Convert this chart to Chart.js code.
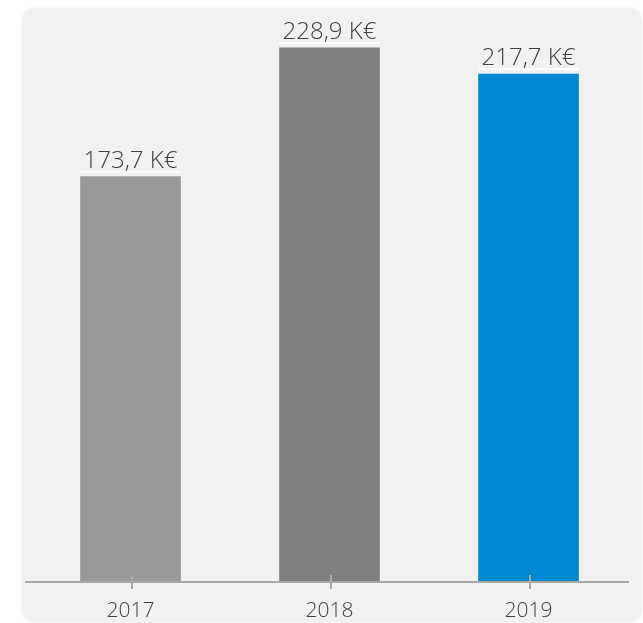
<!DOCTYPE html>
<html>
<head>
<meta charset="utf-8">
<script src="https://cdn.jsdelivr.net/npm/chart.js@4/dist/chart.umd.min.js"></script>
<style>
  html, body { margin: 0; padding: 0; background: #ffffff; }
  #c { display: block; }
</style>
</head>
<body>
<canvas id="c" width="643" height="623"></canvas>
<script>
const categories = ['2017', '2018', '2019'];
const values = [173.7, 228.9, 217.7];
const valueLabels = ['173,7 K€', '228,9 K€', '217,7 K€'];
const barColors = ['#999999', '#808080', '#0088d1'];

const panelPlugin = {
  id: 'panel',
  beforeDraw(chart) {
    const ctx = chart.ctx;
    ctx.save();
    ctx.fillStyle = '#ffffff';
    ctx.fillRect(0, 0, chart.width, chart.height);
    ctx.shadowColor = 'rgba(0,0,0,0.10)';
    ctx.shadowBlur = 4;
    ctx.shadowOffsetX = 0;
    ctx.shadowOffsetY = 1;
    ctx.fillStyle = '#f1f1f1';
    ctx.beginPath();
    ctx.roundRect(23, 8, 618, 613, 12);
    ctx.fill();
    ctx.restore();
  },
  afterDatasetsDraw(chart) {
    const ctx = chart.ctx;
    const meta = chart.getDatasetMeta(0);
    const area = chart.chartArea;
    const xScale = chart.scales.x;
    ctx.save();
    ctx.strokeStyle = '#a8a8a8';
    ctx.lineWidth = 2;
    ctx.beginPath();
    ctx.moveTo(area.left - 6, area.bottom);
    ctx.lineTo(area.right + 1, area.bottom);
    ctx.stroke();
    categories.forEach((c, i) => {
      const x = Math.round(xScale.getPixelForValue(i)) + 1;
      ctx.beginPath();
      ctx.moveTo(x, area.bottom - 7);
      ctx.lineTo(x, area.bottom + 7);
      ctx.stroke();
    });
    ctx.font = '300 24px "Open Sans", "DejaVu Sans", sans-serif';
    ctx.textAlign = 'center';
    ctx.textBaseline = 'alphabetic';
    meta.data.forEach((bar, i) => {
      const half = bar.width / 2;
      ctx.fillStyle = '#ffffff';
      ctx.fillRect(bar.x - half, bar.y - 6, bar.width, 2);
      ctx.fillStyle = '#404040';
      ctx.fillText(valueLabels[i], bar.x, bar.y - 9);
    });
    ctx.restore();
  }
};

new Chart(document.getElementById('c'), {
  type: 'bar',
  data: {
    labels: categories,
    datasets: [{
      data: values,
      backgroundColor: barColors,
      borderWidth: 0,
      barThickness: 100
    }]
  },
  options: {
    responsive: false,
    devicePixelRatio: 1,
    animation: false,
    layout: { padding: { top: 22, left: 31, right: 15, bottom: 0 } },
    plugins: { legend: { display: false }, tooltip: { enabled: false } },
    scales: {
      x: {
        grid: { display: false, drawTicks: false },
        border: { display: false },
        ticks: {
          padding: 16,
          color: '#404040',
          font: { family: '"Open Sans", "DejaVu Sans", sans-serif', size: 21, weight: '300' }
        },
        afterFit(scale) { scale.height = 41; }
      },
      y: {
        display: false,
        min: 0,
        max: 240
      }
    }
  },
  plugins: [panelPlugin]
});
</script>
</body>
</html>
